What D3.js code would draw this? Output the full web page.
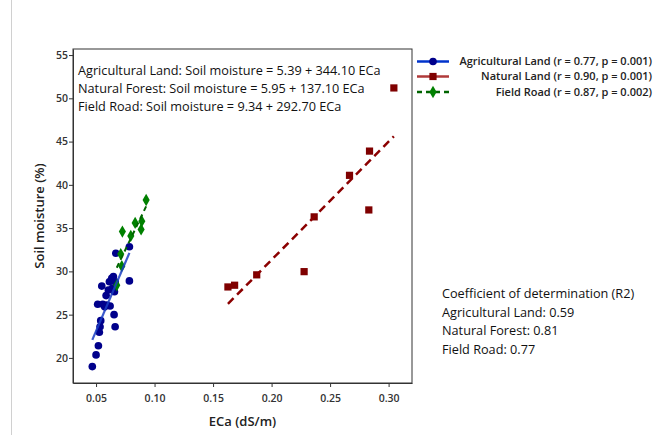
<!DOCTYPE html>
<html>
<head>
<meta charset="utf-8">
<script src="https://cdn.jsdelivr.net/npm/d3@7"></script>
<style>
  body { margin: 0; background: #fff; }
  svg { display: block; font-family: "Open Sans", "Noto Sans", sans-serif; }
</style>
</head>
<body>
<svg id="chart"></svg>
<script>
// Soil moisture vs ECa, three land uses

var width = 654,
    height = 435;

// ECa (dS/m) and soil moisture (%)
var agriEca = [0.0468, 0.050, 0.052, 0.0528, 0.0534, 0.054, 0.0514, 0.0557, 0.0591, 0.062,
               0.0574, 0.0654, 0.0663, 0.0549, 0.0586, 0.0605, 0.0614, 0.0634, 0.0648, 0.0657,
               0.064, 0.0663, 0.0669, 0.0785, 0.0785];
var agriMoist = [19.0, 20.35, 21.4, 22.97, 23.6, 24.3, 26.2, 26.2, 26.1, 26.0,
                 25.9, 25.0, 23.6, 28.3, 27.2, 27.85, 28.8, 29.2, 29.4, 27.65,
                 28.05, 28.8, 32.1, 32.85, 28.9];

var forestEca = [0.3045, 0.2837, 0.2666, 0.2831, 0.2364, 0.2278, 0.1873, 0.1684, 0.1627];
var forestMoist = [51.2, 43.9, 41.1, 37.1, 36.3, 29.97, 29.6, 28.4, 28.2];

var roadEca = [0.0928, 0.0891, 0.0834, 0.0885, 0.0797, 0.0725, 0.0711, 0.072, 0.0677];
var roadMoist = [38.25, 35.8, 35.6, 34.85, 34.1, 34.6, 32.0, 30.6, 28.4];

var xTicks = [0.05, 0.10, 0.15, 0.20, 0.25, 0.30];
var yTicks = [20, 25, 30, 35, 40, 45, 50, 55];

var legendLabels = ["Agricultural Land (r = 0.77, p = 0.001)",
                    "Natural Land (r = 0.90, p = 0.001)",
                    "Field Road (r = 0.87, p = 0.002)"];

var equations = ["Agricultural Land: Soil moisture = 5.39 + 344.10 ECa",
                 "Natural Forest: Soil moisture = 5.95 + 137.10 ECa",
                 "Field Road: Soil moisture = 9.34 + 292.70 ECa"];

var r2Lines = ["Coefficient of determination (R2)",
               "Agricultural Land: 0.59",
               "Natural Forest: 0.81",
               "Field Road: 0.77"];

var series = [
  { eca: agriEca, moist: agriMoist, marker: "circle", fill: "#00008b", line: "#1c3fc4", dash: null, width: 2.2 },
  { eca: forestEca, moist: forestMoist, marker: "square", fill: "#7f0000", line: "#8b0000", dash: "8,5", width: 2.5 },
  { eca: roadEca, moist: roadMoist, marker: "diamond", fill: "#008000", line: "#006400", dash: "5,4", width: 2 }
];

var m = { left: 73, top: 49, right: 412, bottom: 383 };

var svg = d3.select("#chart")
    .attr("width", width)
    .attr("height", height);

// faint outer frame on the left
svg.append("line")
    .attr("x1", 11.5).attr("x2", 11.5)
    .attr("y1", 0).attr("y2", height)
    .attr("stroke", "#d0d0d0");

var x = d3.scaleLinear().domain([0.0303, 0.32]).range([m.left, m.right]);
var y = d3.scaleLinear().domain([17.1, 55.7]).range([m.bottom, m.top]);

// least squares fit
function fit(xs, ys) {
  var mx = d3.mean(xs), my = d3.mean(ys), sxy = 0, sxx = 0;
  xs.forEach(function(v, i) { sxy += (v - mx) * (ys[i] - my); sxx += (v - mx) * (v - mx); });
  var b = sxy / sxx;
  return { a: my - b * mx, b: b };
}

var symbolFor = {
  circle: d3.symbol().type(d3.symbolCircle).size(46),
  square: d3.symbol().type(d3.symbolSquare).size(52),
  diamond: d3.symbol().type(d3.symbolDiamond).size(44)
};

// points first, then fitted lines on top
series.forEach(function(s) {
  svg.append("g").selectAll("path")
    .data(s.eca.map(function(v, i) { return [v, s.moist[i]]; }))
    .enter().append("path")
      .attr("d", symbolFor[s.marker])
      .attr("transform", function(d) { return "translate(" + x(d[0]) + "," + y(d[1]) + ")"; })
      .attr("fill", s.fill);
});

series.forEach(function(s) {
  var f = fit(s.eca, s.moist),
      ext = d3.extent(s.eca);
  svg.append("line")
      .attr("x1", x(ext[0])).attr("y1", y(f.a + f.b * ext[0]))
      .attr("x2", x(ext[1])).attr("y2", y(f.a + f.b * ext[1]))
      .attr("stroke", s.line)
      .attr("stroke-width", s.width)
      .attr("stroke-dasharray", s.dash)
      .attr("opacity", s.marker == "circle" ? 0.85 : 1);
});

// frame
svg.append("rect")
    .attr("x", m.left).attr("y", m.top)
    .attr("width", m.right - m.left).attr("height", m.bottom - m.top)
    .attr("fill", "none").attr("stroke", "#333").attr("stroke-width", 1);

var xAxis = svg.append("g")
    .attr("transform", "translate(0," + m.bottom + ")")
    .call(d3.axisBottom(x).tickValues(xTicks).tickFormat(d3.format(".2f")).tickSize(4).tickSizeOuter(0));
var yAxis = svg.append("g")
    .attr("transform", "translate(" + m.left + ",0)")
    .call(d3.axisLeft(y).tickValues(yTicks).tickSize(4).tickSizeOuter(0));

[xAxis, yAxis].forEach(function(a) {
  a.select(".domain").attr("stroke", "#333");
  a.selectAll(".tick line").attr("stroke", "#333");
  a.selectAll(".tick text")
    .attr("fill", "#333")
    .style("font-size", "10.5px")
    .style("font-weight", 600)
    .style("font-family", "'Open Sans', sans-serif");
});
xAxis.selectAll(".tick text").attr("dy", "1.1em");
yAxis.selectAll(".tick text").attr("x", -5);

svg.append("text")
    .attr("x", (m.left + m.right) / 2).attr("y", 426)
    .attr("text-anchor", "middle")
    .style("font-size", "13px").style("font-weight", 600).attr("fill", "#222")
    .text("ECa (dS/m)");

svg.append("text")
    .attr("transform", "translate(44," + (m.top + m.bottom) / 2 + ") rotate(-90)")
    .attr("text-anchor", "middle")
    .style("font-size", "13px").style("font-weight", 600).attr("fill", "#222")
    .text("Soil moisture (%)");

// regression equations inside plot
svg.append("g").selectAll("text")
  .data(equations)
  .enter().append("text")
    .attr("x", 78)
    .attr("y", function(d, i) { return 74.5 + i * 18; })
    .style("font-size", "12.7px")
    .attr("fill", "#111")
    .text(String);

// legend
var legend = svg.append("g").selectAll("g")
  .data(series)
  .enter().append("g")
    .attr("transform", function(d, i) { return "translate(0," + [61.5, 76.5, 92][i] + ")"; });

legend.append("line")
    .attr("x1", 417).attr("x2", 449)
    .attr("stroke", function(d, i) { return ["#0033cc", "#b03a3a", "#006400"][i]; })
    .attr("stroke-width", 2.5)
    .attr("stroke-dasharray", function(d, i) { return i == 2 ? "5,4" : null; });

legend.append("path")
    .attr("d", function(d) { return symbolFor[d.marker](); })
    .attr("transform", "translate(433,0)")
    .attr("fill", function(d) { return d.fill; });

legend.append("text")
    .attr("x", 652)
    .attr("dy", "0.35em")
    .attr("text-anchor", "end")
    .style("font-size", "11px").style("font-weight", 600)
    .attr("fill", "#222")
    .text(function(d, i) { return legendLabels[i]; });

// R2 note
svg.append("g").selectAll("text")
  .data(r2Lines)
  .enter().append("text")
    .attr("x", 442)
    .attr("y", function(d, i) { return 298 + i * 18.7; })
    .style("font-size", "12.7px")
    .attr("fill", "#111")
    .text(String);
</script>
</body>
</html>
